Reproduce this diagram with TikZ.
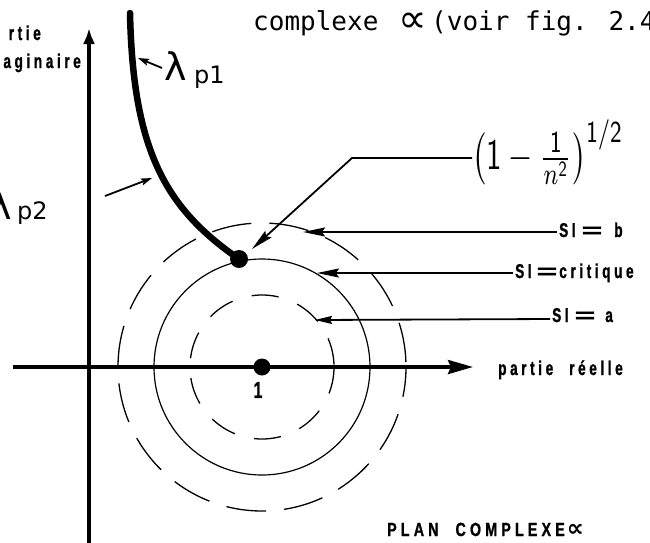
\documentclass[tikz,border=0pt]{standalone}
\usepackage{fontspec}
\usepackage{graphicx}
\usetikzlibrary{arrows.meta}
\newfontfamily\lblfont{Liberation Sans}[FakeStretch=0.68,LetterSpace=18,FakeBold=1]
\newfontfamily\lblwide{Liberation Sans}[FakeStretch=0.75,LetterSpace=22,FakeBold=1]
\newfontfamily\twfont{DejaVu Sans Mono}
\newfontfamily\hwfont{DejaVu Sans}
\begin{document}
\begin{tikzpicture}[x=1pt,y=-1pt,
  lbl/.style={font=\lblfont\bfseries\fontsize{20}{22}\selectfont, inner sep=0pt},
  lblB/.style={font=\lblwide\bfseries\fontsize{19}{22}\selectfont, inner sep=0pt},
  tw/.style={font=\twfont\fontsize{26}{28}\selectfont, inner sep=0pt},
  hwbig/.style={font=\hwfont\fontsize{38}{40}\selectfont, inner sep=0pt},
  hwsub/.style={font=\hwfont\fontsize{24}{26}\selectfont, inner sep=0pt},
  axisline/.style={line width=3.5pt},
  thincirc/.style={line width=1.2pt},
  dashcirc/.style={line width=1.3pt},
  lead/.style={line width=1.8pt,-{Stealth[length=22pt,width=9pt,inset=3pt]}},
  smallarr/.style={line width=1.8pt,-{Stealth[length=11pt,width=7pt,inset=2pt]}},
]
\useasboundingbox (0,0) rectangle (650,542);
\fill[white] (0,0) rectangle (650,542);
\clip (0,0) rectangle (650,542);

% circles
\coordinate (O) at (262,367);
\draw[thincirc] (O) circle[radius=108];
\draw[dashcirc, dash pattern=on 27pt off 20pt] (O) circle[radius=72];
\draw[dashcirc, dash pattern=on 40pt off 18pt, dash phase=10pt] (O) circle[radius=144];

% axes
\coordinate (ybot) at (89,545);
\coordinate (ytop) at (89,28);
\draw[axisline,-{Latex[length=16pt,width=12pt]}] (ybot) -- (ytop);
\coordinate (xl) at (13,367);
\coordinate (xr) at (473,367);
\draw[axisline,-{Stealth[length=25pt,width=14pt,inset=3pt]}] (xl) -- (xr);

% centre point
\fill (O) circle[radius=8.5];
\node[lbl, font=\lblfont\bfseries\fontsize{23}{24}\selectfont] (one) at (258,390) {1};

% lambda p1 curve
\coordinate (ctop) at (130,13);
\coordinate (P) at (239,259);
\draw[line width=6.5pt, line cap=round] (ctop) .. controls (133,150) and (165,208) .. (P);
\fill (P) circle[radius=9];

% labels lambda
\node[hwbig, anchor=base west] (lam1) at (164,80) {λ};
\node[hwsub, anchor=base west] (p1) at (194,83) {p1};
\coordinate (l1s) at (162,68);
\coordinate (l1e) at (138,58);
\draw[smallarr] (l1s) -- (l1e);

\node[hwbig, anchor=base east] (lam2) at (12,219) {λ};
\node[hwsub, anchor=base west] (p2) at (17,219) {p2};
\coordinate (l2s) at (105,196);
\coordinate (l2e) at (152,178);
\draw[smallarr] (l2s) -- (l2e);

% formula
\node[anchor=west, inner sep=0pt] (form) at (472,152.5)
  {\resizebox*{151pt}{65pt}{$\left(\mathsf{1}-\frac{\mathsf{1}}{n^{\mathsf{2}}}\right)^{\mathsf{1/2}}$}};
\coordinate (corner) at (352,158);
\coordinate (ftip) at (252,249);
\draw[lead] (form.west |- corner) -- (corner) -- (ftip);

% title
\node[tw, anchor=base west] (t1) at (253,30) {complexe};
\node[font=\hwfont\fontsize{40}{42}\selectfont, inner sep=0pt, anchor=base] (t2) at (413,32) {∝};
\node[tw, anchor=base west] (t3) at (431,30) {(voir fig. 2.4};

% axis labels
\node[lbl, anchor=base east] (ptie) at (41,40) {rtie};
\node[lbl, anchor=base east] (imag) at (81,68) {aginaire};
\node[lbl, anchor=base west] (reel) at (498,375) {partie\hspace{16pt}réelle};

% SI labels
\node[lbl, anchor=base west] (sib) at (559,237) {SI\hspace{6pt}\scalebox{2.6}[1]{=}\hspace{12pt}b};
\node[lbl, anchor=base west] (sic) at (515,278) {SI\hspace{5pt}\scalebox{2.6}[1]{=}\hspace{2pt}critique};
\node[lbl, anchor=base west] (sia) at (552,322) {SI\hspace{6pt}\scalebox{2.6}[1]{=}\hspace{10pt}a};
\coordinate (bs) at (557,232);
\coordinate (be) at (303,232);
\draw[lead] (bs) -- (be);
\coordinate (cs) at (513,273);
\coordinate (ce) at (317,273);
\draw[lead] (cs) -- (ce);
\coordinate (as) at (550,319);
\coordinate (ae) at (315,320);
\draw[line width=1.8pt, -{Stealth[length=17pt,width=8pt,inset=2pt]}] (as) -- (ae);

% bottom title
\node[lblB, anchor=base west] (plan) at (387,536)
  {PLAN\hspace{17pt}COMPLEXE\hspace{2pt}{\hwfont\bfseries\fontsize{24}{25}\selectfont ∝}};
\end{tikzpicture}
\end{document}
